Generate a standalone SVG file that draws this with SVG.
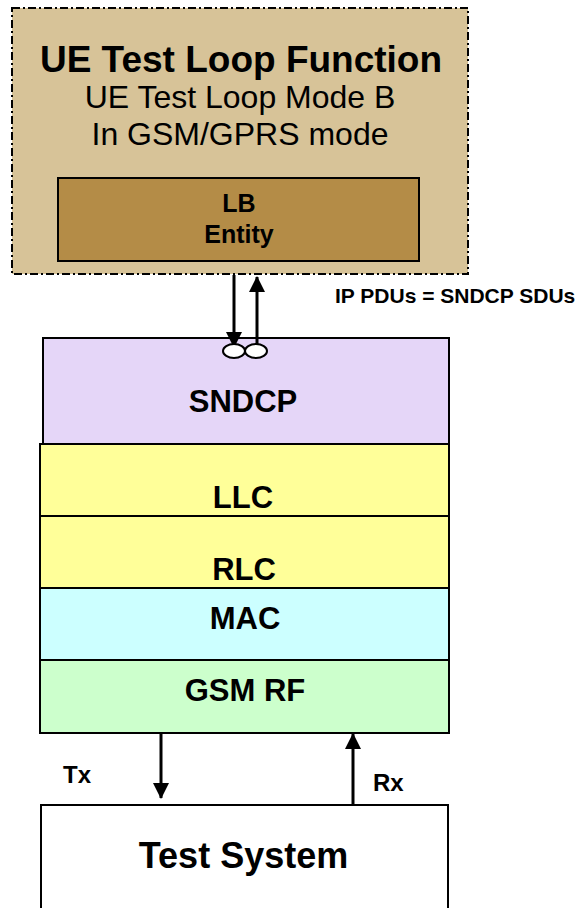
<svg xmlns="http://www.w3.org/2000/svg" width="582" height="908" viewBox="0 0 582 908">
  <defs>
    <marker id="arrow" markerUnits="userSpaceOnUse" markerWidth="16" markerHeight="16" refX="15" refY="8" orient="auto">
      <path d="M0,0 L16,8 L0,16 z" fill="#000"/>
    </marker>
  </defs>
  <style>
    .box { stroke: #000; stroke-width: 2; }
    .bold { font-family: "Liberation Sans", Arial, sans-serif; font-weight: bold; fill: #000; }
    .reg { font-family: "Liberation Sans", Arial, sans-serif; fill: #000; }
    .mid { text-anchor: middle; }
    .conn { stroke: #000; stroke-width: 3; fill: none; marker-end: url(#arrow); }
    .port { fill: #fff; stroke: #000; stroke-width: 2; }
  </style>
  <rect width="582" height="908" fill="#fff"/>

  <g id="ue-test-loop-function">
    <rect x="12" y="8" width="456" height="266" fill="#d7c398" stroke="#000" stroke-width="2" stroke-dasharray="8 3 2 3"/>
    <text class="bold mid" x="241" y="72" font-size="37">UE Test Loop Function</text>
    <text class="reg mid" x="240" y="108" font-size="32">UE Test Loop Mode B</text>
    <text class="reg mid" x="240" y="145" font-size="32">In GSM/GPRS mode</text>
  </g>

  <g id="lb-entity">
    <rect class="box" x="58" y="178" width="361" height="83" fill="#b48c47"/>
    <text class="bold mid" x="239" y="212" font-size="25">LB</text>
    <text class="bold mid" x="239" y="243" font-size="25">Entity</text>
  </g>

  <g id="sndcp">
    <rect class="box" x="43" y="338" width="406" height="106" fill="#e5d6f8"/>
    <text class="bold mid" x="243" y="412" font-size="31">SNDCP</text>
  </g>

  <g id="llc">
    <rect class="box" x="40" y="444" width="409" height="72" fill="#ffff99"/>
    <text class="bold mid" x="243" y="508" font-size="31">LLC</text>
  </g>

  <g id="rlc">
    <rect class="box" x="40" y="516" width="409" height="72" fill="#ffff99"/>
    <text class="bold mid" x="244" y="580" font-size="31">RLC</text>
  </g>

  <g id="mac">
    <rect class="box" x="40" y="588" width="409" height="72" fill="#ccffff"/>
    <text class="bold mid" x="245" y="629" font-size="31">MAC</text>
  </g>

  <g id="gsm-rf">
    <rect class="box" x="40" y="660" width="409" height="73" fill="#ccffcc"/>
    <text class="bold mid" x="245" y="701" font-size="31">GSM RF</text>
  </g>

  <g id="test-system">
    <rect class="box" x="41" y="805" width="407" height="130" fill="#fff"/>
    <text class="bold mid" x="243.5" y="868" font-size="36">Test System</text>
  </g>

  <g id="connectors">
    <line class="conn" x1="234" y1="275" x2="234" y2="347"/>
    <line class="conn" x1="257" y1="345" x2="257" y2="277"/>
    <ellipse class="port" cx="234" cy="351" rx="11" ry="7"/>
    <ellipse class="port" cx="256" cy="351" rx="11" ry="7"/>
    <text class="bold" x="335" y="303" font-size="21">IP PDUs = SNDCP SDUs</text>
    <line class="conn" x1="161" y1="733" x2="161" y2="798"/>
    <line class="conn" x1="353" y1="805" x2="353" y2="734"/>
    <text class="bold" x="63" y="783" font-size="24">Tx</text>
    <text class="bold" x="373" y="791" font-size="24">Rx</text>
  </g>
</svg>
